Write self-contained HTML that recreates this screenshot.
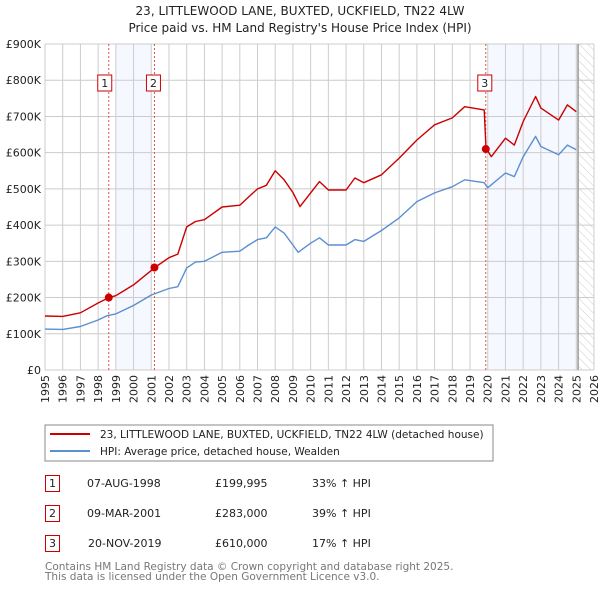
<!DOCTYPE html>
<html><head><meta charset="utf-8"><style>
body{margin:0;background:#fff;font-family:"DejaVu Sans","Liberation Sans",sans-serif;}
svg text{font-family:"DejaVu Sans","Liberation Sans",sans-serif;}
</style></head><body>
<svg id="c" width="600" height="590" viewBox="0 0 600 590" xmlns="http://www.w3.org/2000/svg">
<defs><pattern id="hatch" width="6" height="6" patternUnits="userSpaceOnUse" patternTransform="rotate(-45)"><line x1="0" y1="0" x2="0" y2="6" stroke="#ccc" stroke-width="1"/></pattern></defs>
<text x="300" y="15" text-anchor="middle" font-size="12" fill="#222">23, LITTLEWOOD LANE, BUXTED, UCKFIELD, TN22 4LW</text>
<text x="300" y="32" text-anchor="middle" font-size="12" fill="#222">Price paid vs. HM Land Registry's House Price Index (HPI)</text>
<g id="plot"></g>
<rect x="45" y="425" width="448" height="36" fill="#fff" stroke="#888"/>
<line x1="50" y1="434" x2="90" y2="434" stroke="#cc0000" stroke-width="2"/>
<text x="100" y="438" font-size="10.5" fill="#222">23, LITTLEWOOD LANE, BUXTED, UCKFIELD, TN22 4LW (detached house)</text>
<line x1="50" y1="451" x2="90" y2="451" stroke="#5b8fd0" stroke-width="2"/>
<text x="100" y="455" font-size="10.5" fill="#222">HPI: Average price, detached house, Wealden</text>
<g font-size="11" fill="#222">
<rect x="45.5" y="475.5" width="14" height="16" fill="none" stroke="#cc0000"/><text x="52.5" y="487" text-anchor="middle">1</text>
<text x="87" y="487">07-AUG-1998</text><text x="215" y="487">£199,995</text><text x="312" y="487">33% ↑ HPI</text>
<rect x="45.5" y="505.5" width="14" height="16" fill="none" stroke="#cc0000"/><text x="52.5" y="517" text-anchor="middle">2</text>
<text x="87" y="517">09-MAR-2001</text><text x="215" y="517">£283,000</text><text x="312" y="517">39% ↑ HPI</text>
<rect x="45.5" y="535.5" width="14" height="16" fill="none" stroke="#cc0000"/><text x="52.5" y="547" text-anchor="middle">3</text>
<text x="88" y="547">20-NOV-2019</text><text x="215" y="547">£610,000</text><text x="312" y="547">17% ↑ HPI</text>
</g>
<text x="45" y="570" font-size="10.5" fill="#777">Contains HM Land Registry data © Crown copyright and database right 2025.</text>
<text x="45" y="580" font-size="10.5" fill="#777">This data is licensed under the Open Government Licence v3.0.</text>
</svg>
<script>
const yTicks=[0,100000,200000,300000,400000,500000,600000,700000,800000,900000];
const yTickLabels=["£0","£100K","£200K","£300K","£400K","£500K","£600K","£700K","£800K","£900K"];
const xYears=[1995,1996,1997,1998,1999,2000,2001,2002,2003,2004,2005,2006,2007,2008,2009,2010,2011,2012,2013,2014,2015,2016,2017,2018,2019,2020,2021,2022,2023,2024,2025,2026];
const hpiT=[1995,1996,1997,1998,1998.5,1999,2000,2001,2002,2002.5,2003,2003.5,2004,2005,2006,2006.5,2007,2007.5,2008,2008.5,2009,2009.3,2010,2010.5,2011,2012,2012.5,2013,2014,2015,2016,2017,2018,2018.7,2019.8,2020,2021,2021.5,2022,2022.7,2023,2024,2024.5,2025];
const hpiV=[113,112,120,138,150,155,178,207,225,230,282,298,300,325,328,345,360,365,395,378,345,325,350,365,345,345,360,355,385,420,465,489,506,525,517,503,544,534,589,645,617,594,621,608];
const priceT=[1995,1996,1997,1998,1998.6,1999,2000,2001,2001.2,2002,2002.5,2003,2003.5,2004,2005,2006,2006.5,2007,2007.5,2008,2008.5,2009,2009.4,2010,2010.5,2011,2012,2012.5,2013,2014,2015,2016,2017,2018,2018.7,2019.8,2019.9,2020.2,2021,2021.5,2022,2022.7,2023,2024,2024.5,2025];
const priceV=[149,148,158,185,200,205,235,275,283,310,320,395,410,415,450,455,478,500,510,550,525,490,451,489,520,497,497,530,517,539,585,635,677,696,727,718,613,589,640,621,686,755,723,690,732,713];
const saleT=[1998.6,2001.18,2019.89];
const saleV=[199995,283000,610000];
const saleLabels=["1","2","3"];
const X0=45,X1=594,Y0=370,Y1=44;
const xs=t=>X0+(t-1995)/31*(X1-X0);
const ys=v=>Y0-v/900000*(Y0-Y1);
const NS="http://www.w3.org/2000/svg";
const g=document.getElementById('plot');
function mk(tag,attrs,parent){const e=document.createElementNS(NS,tag);for(const k in attrs)e.setAttribute(k,attrs[k]);(parent||g).appendChild(e);return e;}
let e;
e=mk('rect',{x:xs(1999),y:Y1,width:xs(2001)-xs(1999),height:Y0-Y1,fill:'#f5f8fe'});


e=mk('rect',{x:xs(2020),y:Y1,width:xs(2025.1)-xs(2020),height:Y0-Y1,fill:'#f5f8fe'});


e=mk('rect',{x:xs(2025.1),y:Y1,width:X1-xs(2025.1),height:Y0-Y1,fill:'url(#hatch)'});


xYears.forEach(y=>{e=mk('line',{x1:xs(y),x2:xs(y),y1:Y1,y2:Y0,stroke:'#ccc','stroke-width':1});


e=mk('text',{x:0,y:0,'font-size':11,fill:'#222','text-anchor':'end',transform:`translate(${xs(y)+4},${Y0+5}) rotate(-90)`});e.textContent=y;

});
yTicks.forEach((v,i)=>{e=mk('line',{x1:X0,x2:X1,y1:ys(v),y2:ys(v),stroke:'#ccc','stroke-width':1});


e=mk('text',{x:X0-4,y:ys(v)+4,'font-size':11,fill:'#222','text-anchor':'end'});e.textContent=yTickLabels[i];

});
e=mk('line',{x1:xs(2025.1),x2:xs(2025.1),y1:Y1,y2:Y0,stroke:'#999','stroke-width':1.5});


saleT.forEach((t,i)=>{e=mk('line',{x1:xs(t),x2:xs(t),y1:Y1,y2:Y0,stroke:'#e05050','stroke-width':1,'stroke-dasharray':'2,2'});

});
function path(T,V,col,name){const d=T.map((t,i)=>(i?'L':'M')+xs(t).toFixed(1)+','+ys(V[i]*1000).toFixed(1)).join('');
e=mk('path',{d:d,fill:'none',stroke:col,'stroke-width':1.4,'stroke-linejoin':'round'});

}
path(hpiT,hpiV,'#5b8fd0','hpi-line');
path(priceT,priceV,'#cc0000','price-line');
saleT.forEach((t,i)=>{e=mk('circle',{cx:xs(t),cy:ys(saleV[i]),r:4,fill:'#cc0000'});


const bx=xs(t)-(i==0?11:8);
e=mk('rect',{x:bx,y:75,width:14,height:16,fill:'#fff',stroke:'#cc0000'});


e=mk('text',{x:bx+7,y:87,'font-size':11,fill:'#222','text-anchor':'middle'});e.textContent=saleLabels[i];

});
</script>
</body></html>
